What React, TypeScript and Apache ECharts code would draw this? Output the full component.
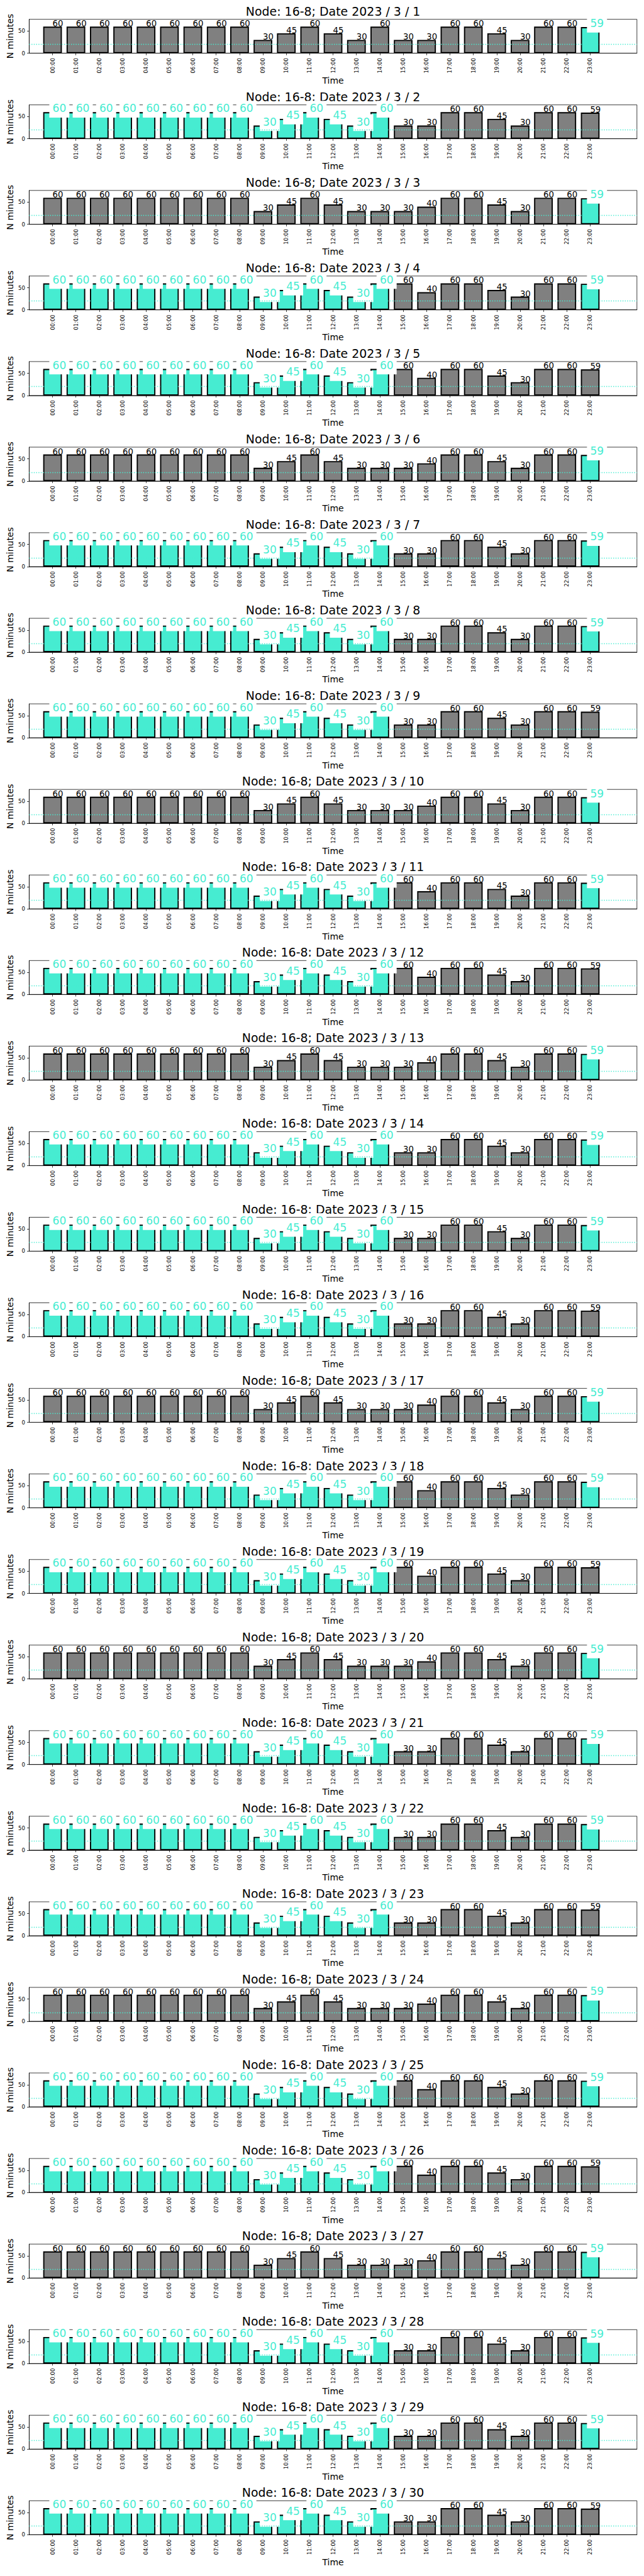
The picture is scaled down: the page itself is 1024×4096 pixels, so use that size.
import React, { useEffect, useRef } from "react";
import * as echarts from "echarts";

// ---------------- data ----------------
const HOURS = [
  "00:00", "01:00", "02:00", "03:00", "04:00", "05:00", "06:00", "07:00",
  "08:00", "09:00", "10:00", "11:00", "12:00", "13:00", "14:00", "15:00",
  "16:00", "17:00", "18:00", "19:00", "20:00", "21:00", "22:00", "23:00",
];
const NODE = "16-8";
const YEAR = 2023;
const MONTH = 3;
const DAYS = [
  1, 2, 3, 4, 5, 6, 7, 8, 9, 10, 11, 12, 13, 14, 15,
  16, 17, 18, 19, 20, 21, 22, 23, 24, 25, 26, 27, 28, 29, 30,
];
const THRESHOLD = 20;
const Y_MAX = 76.5;
const Y_TICKS = [0, 50];

// minutes per hour, one row per day
const MINUTES_BY_DAY: number[][] = [
  [60, 60, 60, 60, 60, 60, 60, 60, 60, 30, 45, 60, 45, 30, 60, 30, 30, 60, 60, 45, 30, 60, 60, 59], // 1
  [60, 60, 60, 60, 60, 60, 60, 60, 60, 30, 45, 60, 45, 30, 60, 30, 30, 60, 60, 45, 30, 60, 60, 59], // 2
  [60, 60, 60, 60, 60, 60, 60, 60, 60, 30, 45, 60, 45, 30, 30, 30, 40, 60, 60, 45, 30, 60, 60, 59], // 3
  [60, 60, 60, 60, 60, 60, 60, 60, 60, 30, 45, 60, 45, 30, 60, 60, 40, 60, 60, 45, 30, 60, 60, 59], // 4
  [60, 60, 60, 60, 60, 60, 60, 60, 60, 30, 45, 60, 45, 30, 60, 60, 40, 60, 60, 45, 30, 60, 60, 59], // 5
  [60, 60, 60, 60, 60, 60, 60, 60, 60, 30, 45, 60, 45, 30, 30, 30, 40, 60, 60, 45, 30, 60, 60, 59], // 6
  [60, 60, 60, 60, 60, 60, 60, 60, 60, 30, 45, 60, 45, 30, 60, 30, 30, 60, 60, 45, 30, 60, 60, 59], // 7
  [60, 60, 60, 60, 60, 60, 60, 60, 60, 30, 45, 60, 45, 30, 60, 30, 30, 60, 60, 45, 30, 60, 60, 59], // 8
  [60, 60, 60, 60, 60, 60, 60, 60, 60, 30, 45, 60, 45, 30, 60, 30, 30, 60, 60, 45, 30, 60, 60, 59], // 9
  [60, 60, 60, 60, 60, 60, 60, 60, 60, 30, 45, 60, 45, 30, 30, 30, 40, 60, 60, 45, 30, 60, 60, 59], // 10
  [60, 60, 60, 60, 60, 60, 60, 60, 60, 30, 45, 60, 45, 30, 60, 60, 40, 60, 60, 45, 30, 60, 60, 59], // 11
  [60, 60, 60, 60, 60, 60, 60, 60, 60, 30, 45, 60, 45, 30, 60, 60, 40, 60, 60, 45, 30, 60, 60, 59], // 12
  [60, 60, 60, 60, 60, 60, 60, 60, 60, 30, 45, 60, 45, 30, 30, 30, 40, 60, 60, 45, 30, 60, 60, 59], // 13
  [60, 60, 60, 60, 60, 60, 60, 60, 60, 30, 45, 60, 45, 30, 60, 30, 30, 60, 60, 45, 30, 60, 60, 59], // 14
  [60, 60, 60, 60, 60, 60, 60, 60, 60, 30, 45, 60, 45, 30, 60, 30, 30, 60, 60, 45, 30, 60, 60, 59], // 15
  [60, 60, 60, 60, 60, 60, 60, 60, 60, 30, 45, 60, 45, 30, 60, 30, 30, 60, 60, 45, 30, 60, 60, 59], // 16
  [60, 60, 60, 60, 60, 60, 60, 60, 60, 30, 45, 60, 45, 30, 30, 30, 40, 60, 60, 45, 30, 60, 60, 59], // 17
  [60, 60, 60, 60, 60, 60, 60, 60, 60, 30, 45, 60, 45, 30, 60, 60, 40, 60, 60, 45, 30, 60, 60, 59], // 18
  [60, 60, 60, 60, 60, 60, 60, 60, 60, 30, 45, 60, 45, 30, 60, 60, 40, 60, 60, 45, 30, 60, 60, 59], // 19
  [60, 60, 60, 60, 60, 60, 60, 60, 60, 30, 45, 60, 45, 30, 30, 30, 40, 60, 60, 45, 30, 60, 60, 59], // 20
  [60, 60, 60, 60, 60, 60, 60, 60, 60, 30, 45, 60, 45, 30, 60, 30, 30, 60, 60, 45, 30, 60, 60, 59], // 21
  [60, 60, 60, 60, 60, 60, 60, 60, 60, 30, 45, 60, 45, 30, 60, 30, 30, 60, 60, 45, 30, 60, 60, 59], // 22
  [60, 60, 60, 60, 60, 60, 60, 60, 60, 30, 45, 60, 45, 30, 60, 30, 30, 60, 60, 45, 30, 60, 60, 59], // 23
  [60, 60, 60, 60, 60, 60, 60, 60, 60, 30, 45, 60, 45, 30, 30, 30, 40, 60, 60, 45, 30, 60, 60, 59], // 24
  [60, 60, 60, 60, 60, 60, 60, 60, 60, 30, 45, 60, 45, 30, 60, 60, 40, 60, 60, 45, 30, 60, 60, 59], // 25
  [60, 60, 60, 60, 60, 60, 60, 60, 60, 30, 45, 60, 45, 30, 60, 60, 40, 60, 60, 45, 30, 60, 60, 59], // 26
  [60, 60, 60, 60, 60, 60, 60, 60, 60, 30, 45, 60, 45, 30, 30, 30, 40, 60, 60, 45, 30, 60, 60, 59], // 27
  [60, 60, 60, 60, 60, 60, 60, 60, 60, 30, 45, 60, 45, 30, 60, 30, 30, 60, 60, 45, 30, 60, 60, 59], // 28
  [60, 60, 60, 60, 60, 60, 60, 60, 60, 30, 45, 60, 45, 30, 60, 30, 30, 60, 60, 45, 30, 60, 60, 59], // 29
  [60, 60, 60, 60, 60, 60, 60, 60, 60, 30, 45, 60, 45, 30, 60, 30, 30, 60, 60, 45, 30, 60, 60, 59], // 30
];

// highlighted hours (turquoise bars with boxed labels)
const HL_LAST = [23];
const HL_MORNING = [0, 1, 2, 3, 4, 5, 6, 7, 8, 9, 10, 11, 12, 13, 14];
const HL_MORNING_LAST = [0, 1, 2, 3, 4, 5, 6, 7, 8, 9, 10, 11, 12, 13, 14, 23];
const HIGHLIGHT_BY_DAY: number[][] = [
  HL_LAST, HL_MORNING, HL_LAST, HL_MORNING_LAST, HL_MORNING,
  HL_LAST, HL_MORNING_LAST, HL_MORNING_LAST, HL_MORNING, HL_LAST,
  HL_MORNING_LAST, HL_MORNING, HL_LAST, HL_MORNING_LAST, HL_MORNING_LAST,
  HL_MORNING, HL_LAST, HL_MORNING_LAST, HL_MORNING, HL_LAST,
  HL_MORNING_LAST, HL_MORNING_LAST, HL_MORNING, HL_LAST, HL_MORNING_LAST,
  HL_MORNING, HL_LAST, HL_MORNING_LAST, HL_MORNING_LAST, HL_MORNING,
];

// ---------------- layout / style ----------------
const S = 0.682;
const FONT = "DejaVu Sans";
const GRAY = "#808080";
const TURQ = "#46ECD1";

const GRID_LEFT = 68 * S;
const GRID_RIGHT = 1485 * S;
const GRID_W = GRID_RIGHT - GRID_LEFT;
const GRID_CX = (GRID_LEFT + GRID_RIGHT) / 2;
const PANEL_TOP0 = 45 * S;
const PANEL_PITCH = 199.5 * S;
const PANEL_H = 79 * S;
const UNIT = GRID_W / 26;
const BAR_W = 0.8 * UNIT;

const TITLE_FS = 27.8 * S;
const VALUE_FS = 19.44 * S;
const BIG_FS = 25 * S;
const NAME_FS = 20.5 * S;
const TICK_FS = 12.5 * S;
const LINE_W = 1.11 * S;

const CATS = ["", ...HOURS, "", ""];

function buildOption() {
  const grid: any[] = [];
  const xAxis: any[] = [];
  const yAxis: any[] = [];
  const series: any[] = [];
  const elements: any[] = [];

  const pad = 0.3 * BIG_FS;
  const boxTop = 0.76 * BIG_FS + pad;
  const boxBottom = 0.21 * BIG_FS + pad;
  const centralOff = 0.846 * BIG_FS;
  const pt = boxTop - centralOff;
  const pb = boxBottom - (BIG_FS - centralOff);

  DAYS.forEach((day, k) => {
    const top = PANEL_TOP0 + k * PANEL_PITCH;
    const values = MINUTES_BY_DAY[k];
    const hl = HIGHLIGHT_BY_DAY[k];

    grid.push({
      left: GRID_LEFT,
      top,
      width: GRID_W,
      height: PANEL_H,
      show: true,
      borderColor: "#000",
      borderWidth: LINE_W,
      backgroundColor: "transparent",
    });

    const keep = (_i: number, v: string) => v !== "";
    xAxis.push({
      gridIndex: k,
      type: "category",
      data: CATS,
      boundaryGap: false,
      axisLine: { show: true, lineStyle: { color: "#000", width: LINE_W } },
      axisTick: { show: true, length: 3.3, interval: keep, lineStyle: { color: "#000", width: LINE_W } },
      axisLabel: {
        show: true,
        interval: keep,
        rotate: 90,
        margin: 7.5,
        fontSize: TICK_FS,
        fontFamily: FONT,
        color: "#000",
      },
      splitLine: { show: false },
    });

    yAxis.push({
      gridIndex: k,
      type: "value",
      min: 0,
      max: Y_MAX,
      axisLine: { show: true, lineStyle: { color: "#000", width: LINE_W } },
      axisTick: { show: true, length: 3.3, customValues: Y_TICKS, lineStyle: { color: "#000", width: LINE_W } },
      axisLabel: {
        show: true,
        customValues: Y_TICKS,
        margin: 6.5,
        fontSize: TICK_FS,
        fontFamily: FONT,
        color: "#000",
      },
      splitLine: { show: false },
    });

    const barData: any[] = ["-"];
    const labelData: any[] = ["-"];
    values.forEach((v, i) => {
      const isHl = hl.includes(i);
      barData.push({ value: v, itemStyle: { color: isHl ? TURQ : GRAY } });
      labelData.push({
        value: v,
        label: isHl
          ? {
              show: true,
              formatter: String(v),
              position: [BAR_W / 2 - pad, -boxTop],
              align: "left",
              verticalAlign: "top",
              fontSize: BIG_FS,
              lineHeight: BIG_FS,
              fontFamily: FONT,
              color: TURQ,
              backgroundColor: "#fff",
              padding: [pt, pad, pb, pad],
            }
          : {
              show: true,
              formatter: String(v),
              position: [BAR_W / 2, 0.154 * VALUE_FS],
              align: "left",
              verticalAlign: "bottom",
              fontSize: VALUE_FS,
              lineHeight: VALUE_FS,
              fontFamily: FONT,
              color: "#000",
            },
      });
    });
    barData.push("-", "-");
    labelData.push("-", "-");

    series.push({
      type: "bar",
      xAxisIndex: k,
      yAxisIndex: k,
      barWidth: BAR_W,
      barGap: "-100%",
      z: 1,
      silent: true,
      itemStyle: { borderColor: "#000", borderWidth: 1.9 },
      data: barData,
    });
    series.push({
      type: "line",
      xAxisIndex: k,
      yAxisIndex: k,
      z: 2,
      silent: true,
      showSymbol: false,
      data: CATS.map(() => "-"),
      markLine: {
        silent: true,
        symbol: "none",
        label: { show: false },
        lineStyle: { color: TURQ, type: [1.4, 2.3], width: 1.4 },
        data: [{ yAxis: THRESHOLD }],
      },
    });
    series.push({
      type: "bar",
      xAxisIndex: k,
      yAxisIndex: k,
      barWidth: BAR_W,
      barGap: "-100%",
      z: 3,
      silent: true,
      itemStyle: { color: "rgba(0,0,0,0)", borderWidth: 0 },
      data: labelData,
    });

    const txt = (text: string, x: number, y: number, fs: number, rotation = 0) => ({
      type: "text",
      x,
      y,
      rotation,
      silent: true,
      style: {
        text,
        fill: "#000",
        fontSize: fs,
        fontFamily: FONT,
        textAlign: "center",
        textVerticalAlign: "middle",
        align: "center",
        verticalAlign: "middle",
      },
    });
    elements.push(txt(`Node: ${NODE}; Date ${YEAR} / ${MONTH} / ${day}`, GRID_CX, top - 13, TITLE_FS));
    elements.push(txt("N minutes", 16, top + PANEL_H / 2, NAME_FS, Math.PI / 2));
    elements.push(txt("Time", GRID_CX, top + PANEL_H + 43.5, NAME_FS));
  });

  return {
    animation: false,
    backgroundColor: "#fff",
    grid,
    xAxis,
    yAxis,
    series,
    graphic: { elements },
  };
}

export default function App() {
  const ref = useRef<HTMLDivElement>(null);
  useEffect(() => {
    if (!ref.current) return;
    const chart = echarts.init(ref.current, null, { renderer: "svg" });
    chart.setOption(buildOption() as any);
    return () => chart.dispose();
  }, []);
  return (
    <div
      ref={ref}
      style={{ position: "absolute", left: 0, top: 0, width: 1024, height: 4096, background: "#fff" }}
    />
  );
}
